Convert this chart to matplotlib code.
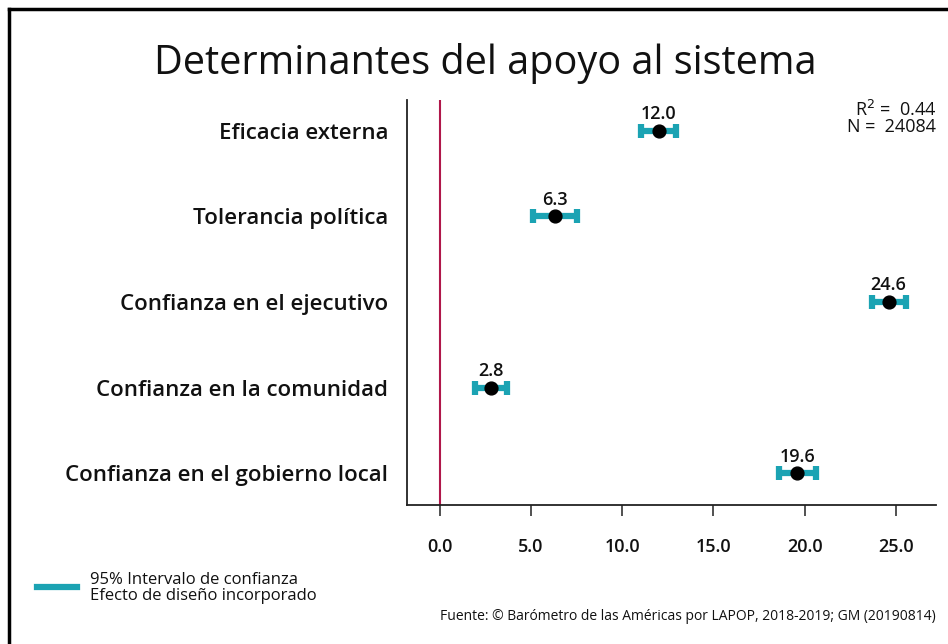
import matplotlib
matplotlib.use("Agg")
import matplotlib.pyplot as plt
from matplotlib.lines import Line2D

categories = ["Eficacia externa", "Tolerancia política", "Confianza en el ejecutivo",
              "Confianza en la comunidad", "Confianza en el gobierno local"]
coefs = [12.0, 6.3, 24.6, 2.8, 19.6]
ci_half = [0.96, 1.2, 0.93, 0.88, 1.0]
xticks = [0.0, 5.0, 10.0, 15.0, 20.0, 25.0]
r2_text = "0.44"
n_text = "24084"

plt.rcParams['font.family'] = ['Open Sans', 'DejaVu Sans']
teal = "#1ba3b3"
crimson = "#b0174a"

fig = plt.figure(figsize=(9.48, 6.44), dpi=100)
ax = fig.add_axes([407/948, 1-505/644, (936-407)/948, (505-100)/644])

ypos = list(range(len(categories)))
ax.axvline(0, color=crimson, lw=1.5, zorder=1)
ax.errorbar(coefs, ypos, xerr=ci_half, fmt='none', ecolor=teal, elinewidth=4.5,
            capsize=5, capthick=4.5, zorder=2)
ax.scatter(coefs, ypos, s=85, color='black', zorder=3)
for x, y in zip(coefs, ypos):
    ax.text(x, y - 0.09, f"{x:.1f}", ha='center', va='bottom', fontsize=13,
            fontweight='semibold', color='#111111')

ax.set_xlim(-1.8, 27.2)
ax.set_ylim(4.37, -0.36)
ax.set_yticks(ypos)
ax.set_yticklabels(categories, fontsize=16, fontweight='semibold', color='#111111')
ax.tick_params(axis='y', length=0, pad=13.5)
ax.set_xticks(xticks)
ax.set_xticklabels([f"{t:.1f}" for t in xticks], fontsize=13, fontweight='semibold', color='#111111')
ax.tick_params(axis='x', length=8, width=1.2, pad=16, color='#333333')
for s in ['top', 'right']:
    ax.spines[s].set_visible(False)
for s in ['left', 'bottom']:
    ax.spines[s].set_linewidth(1.3)
    ax.spines[s].set_color('#222222')

fig.text(485/948, 1-63/644, "Determinantes del apoyo al sistema", ha='center', va='center',
         fontsize=28.5, color='#111111')
fig.text(936/948, 1-118/644, "R$^2$ =  " + r2_text + "\nN =  " + n_text, ha='right', va='center',
         fontsize=13, color='#111111', linespacing=0.9, multialignment='right')

fig.add_artist(Line2D([37/948, 77/948], [1-587/644, 1-587/644], color=teal, lw=4.5))
fig.text(90/948, 1-588/644, "95% Intervalo de confianza\nEfecto de diseño incorporado",
         ha='left', va='center', fontsize=12, color='#111111', linespacing=0.95)
fig.text(936/948, 1-617/644, "Fuente: © Barómetro de las Américas por LAPOP, 2018-2019; GM (20190814)",
         ha='right', va='center', fontsize=10, color='#111111')

# figure frame (top and left edges)
fig.add_artist(Line2D([9/948, 9/948], [0, 1-9/644], color='black', lw=2.5))
fig.add_artist(Line2D([9/948, 1], [1-9/644, 1-9/644], color='black', lw=2.5))

fig.savefig("out.png", dpi=100)
